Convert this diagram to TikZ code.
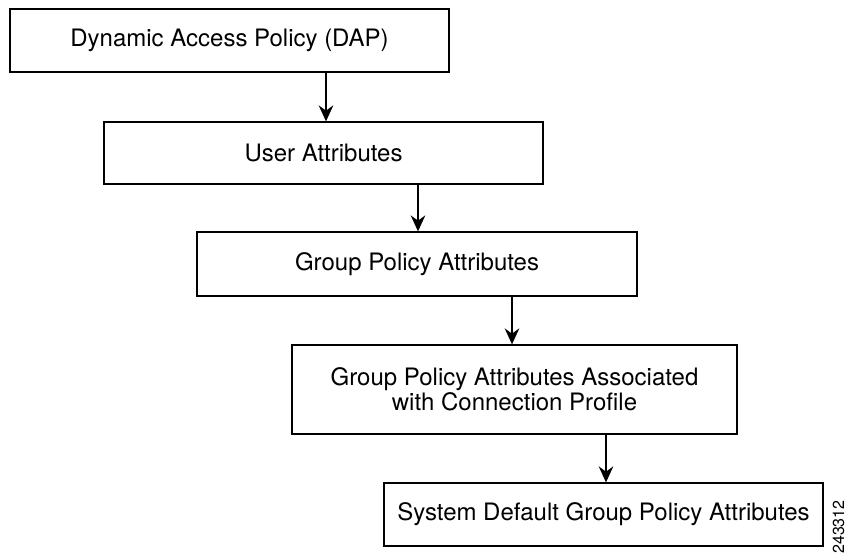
\documentclass[tikz,border=0pt]{standalone}
\usepackage{fontspec}
\setmainfont{TeX Gyre Heros}
\usetikzlibrary{arrows.meta}

\tikzset{
	policybox/.style={draw, line width=1pt, rectangle, inner sep=0pt, align=center,
		font=\fontsize{18}{19}\selectfont},
	flowarrow/.style={line width=0.9pt, -{Stealth[length=12pt, width=11pt, inset=4pt]}}
}

\begin{document}
\begin{tikzpicture}[x=0.75pt, y=-0.75pt]
		%%%%% START %%%%%
		
		\useasboundingbox (0, 0) rectangle (849, 553);
		
		\node[policybox, minimum width=439*0.75pt, minimum height=63*0.75pt] (dap) at (229.5, 40.5) {Dynamic Access Policy (DAP)};
		\node[policybox, minimum width=439*0.75pt, minimum height=62*0.75pt] (user) at (323.5, 153) {User Attributes};
		\node[policybox, minimum width=440*0.75pt, minimum height=64*0.75pt] (group) at (417, 264) {Group Policy Attributes};
		\node[policybox, minimum width=445*0.75pt, minimum height=89*0.75pt] (conn) at (514.5, 389.5) {Group Policy Attributes Associated\\with Connection Profile};
		\node[policybox, minimum width=439*0.75pt, minimum height=63*0.75pt] (sysdef) at (603.5, 514.5) {System Default Group Policy Attributes};
		
		\coordinate (c1) at (326, 0);
		\coordinate (c2) at (418, 0);
		\coordinate (c3) at (512, 0);
		\coordinate (c4) at (606, 0);
		
		\draw[flowarrow] (dap.south -| c1) -- (user.north -| c1);
		\draw[flowarrow] (user.south -| c2) -- (group.north -| c2);
		\draw[flowarrow] (group.south -| c3) -- (conn.north -| c3);
		\draw[flowarrow] (conn.south -| c4) -- (sysdef.north -| c4);
		
		\node[rotate=90, inner sep=0pt, font=\fontsize{12}{14}\selectfont] (fignum) at (838.5, 527) {243312};
		
		%%%%% END %%%%%
	\end{tikzpicture}
\end{document}
